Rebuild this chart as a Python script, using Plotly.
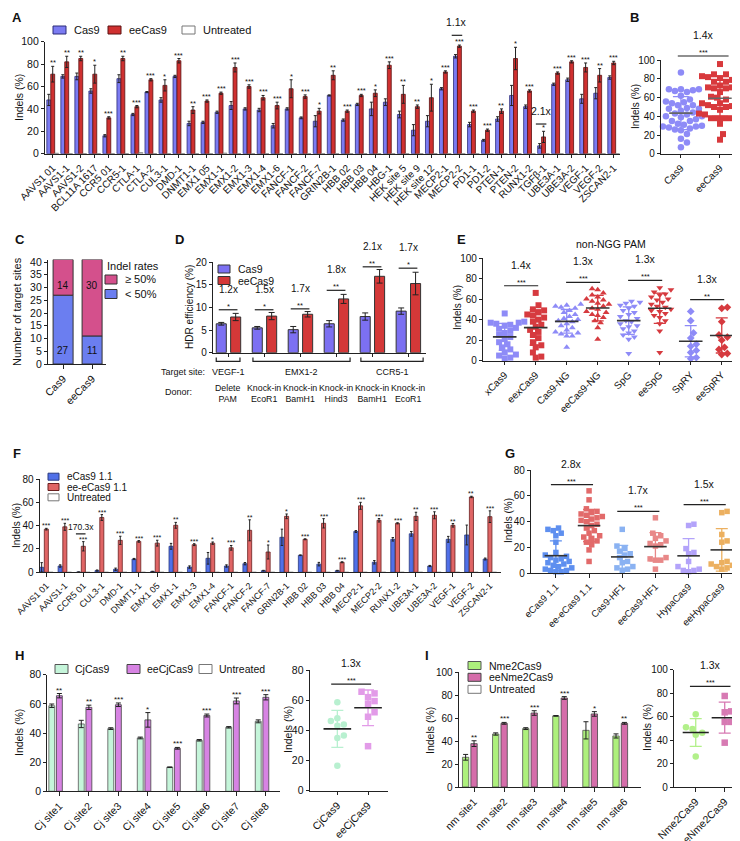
import numpy as np
import plotly.graph_objects as go

W, H = 740, 841
FONT = "Liberation Sans, Arial, sans-serif"
INK = "#222222"

# ---------------- A : per-site indels ----------------
a_sites = ["AAVS1 01", "AAVS1-1", "AAVS1-2", "BCL11A 1617", "CCR5 01", "CCR5-1", "CTLA-1", "CTLA-2",
           "CUL3-1", "DMD-1", "DNMT1-1", "EMX1 05", "EMX1-1", "EMX1-2", "EMX1-3", "EMX1-4", "EMX1-6",
           "FANCF-1", "FANCF-2", "FANCF-7", "GRIN2B-1", "HBB 02", "HBB 03", "HBB 04", "HBG-1",
           "HEK site 5", "HEK site 9", "HEK site 12", "MECP2-1", "MECP2-2", "PD1-1", "PD1-2",
           "PTEN-1", "PTEN-2", "RUNX1-2", "TGFβ-1", "UBE3A-1", "UBE3A-2", "VEGF-1", "VEGF-2", "ZSCAN2-1"]
a_cas9 = [48, 69, 69, 56, 16, 67, 35, 55, 48, 69, 27, 28, 37, 43, 40, 39, 25, 40, 32, 29, 52, 30, 44, 40,
          46, 35, 21, 29, 58, 87, 26, 12, 31, 52, 42, 7, 62, 66, 49, 54, 68]
a_cas9_err = [5, 1.5, 3, 2, 1, 3.5, 1, 0.5, 2, 1, 2, 1, 1, 3.5, 1, 1.5, 2, 1, 0.8, 5, 0.5, 1, 1, 6, 3,
              3, 5, 5, 1, 1.5, 2, 0.8, 2, 9, 1.5, 2, 1, 1.5, 4, 5, 1.5]
a_ee = [71, 82, 85, 71, 32, 85, 42, 66, 61, 83, 39, 47, 54, 77, 60, 50, 43, 58, 51, 38, 70, 38, 52, 54,
        79, 53, 42, 50, 73, 96, 38, 21, 38, 85, 56, 15, 72, 82, 77, 70, 81]
a_ee_err = [7, 5, 2, 8, 1, 2, 1, 1, 5, 2, 3, 1, 1, 4, 1.5, 2, 3, 8, 1.5, 2.5, 4, 1, 1, 3, 3, 8, 1.5, 12,
            1, 1, 1, 1, 2, 10, 1, 5, 1, 1, 4, 6, 1.5]
a_untreated = [0.4, 0, 0, 0, 0, 0, 1.0, 0, 0, 0, 0, 0, 0.5, 0, 0, 0, 0, 0, 0, 0, 0, 0, 0, 0, 0, 0, 0, 0,
               0, 0, 0, 0, 0, 0, 0, 0, 0, 0, 0, 0, 0]
a_sig = ["**", "**", "**", "*", "***", "**", "***", "***", "*", "***", "**", "***", "***", "***", "***",
         "***", "***", "*", "***", "*", "**", "***", "***", "*", "***", "**", "**", "*", "***", "***",
         "***", "***", "**", "*", "***", "*", "***", "***", "***", "**", "***"]

# ---------------- C : counts ----------------
c_groups = ["Cas9", "eeCas9"]
c_low = [27, 11]
c_high = [14, 30]

# ---------------- D : HDR ----------------
d_cas9 = [6.4, 5.5, 5.1, 6.4, 8.0, 9.2]
d_cas9_err = [0.3, 0.3, 0.7, 0.7, 0.8, 0.7]
d_ee = [7.9, 8.1, 8.5, 11.9, 16.9, 15.3]
d_ee_err = [0.8, 0.8, 0.6, 1.0, 1.5, 2.5]
d_fold = ["1.2x", "1.5x", "1.7x", "1.8x", "2.1x", "1.7x"]
d_sig = ["*", "*", "**", "**", "**", "*"]
d_line = [9.5, 9.5, 9.7, 13.8, 19.0, 18.7]
d_donor = ["Delete<br>PAM", "Knock-in<br>EcoR1", "Knock-in<br>BamH1", "Knock-in<br>Hind3",
           "Knock-in<br>BamH1", "Knock-in<br>EcoR1"]
d_targets = ["VEGF-1", "EMX1-2", "CCR5-1"]

# ---------------- E : non-NGG PAM ----------------
e_groups = ["xCas9", "eexCas9", "Cas9-NG", "eeCas9-NG", "SpG", "eeSpG", "SpRY", "eeSpRY"]
e_xcas9 = [46, 38, 37, 37, 36, 35, 34, 32, 31, 29, 27, 25, 23, 21, 18, 16, 13, 11, 8, 6, 5, 3, 2]
e_eexcas9 = [66, 54, 50, 49, 47, 45, 44, 42, 40, 38, 35, 33, 30, 28, 25, 22, 18, 15, 13, 8, 4, 3]
e_ng = [55, 54, 53, 52, 51, 49, 47, 45, 43, 41, 40, 39, 38, 36, 34, 32, 30, 28, 27, 26, 24, 24, 13]
e_eeng = [70, 69, 66, 64, 62, 60, 59, 58, 56, 55, 53, 51, 50, 48, 47, 45, 44, 42, 39, 37, 32, 21]
e_spg = [58, 57, 56, 54, 53, 51, 49, 47, 45, 43, 41, 39, 38, 36, 34, 33, 31, 29, 27, 25, 23, 21, 7]
e_eespg = [71, 69, 67, 65, 64, 62, 60, 59, 57, 55, 53, 52, 50, 49, 48, 46, 44, 42, 39, 36, 29, 8]
e_spry = [48, 39, 27, 22, 16, 14, 10, 8, 3, 2]
e_eespry = [52, 51, 38, 25, 23, 20, 13, 11, 7, 6]
e_pairs = [(0, 1, 73, "***", "1.4x"), (2, 3, 76.3, "***", "1.3x"),
           (4, 5, 78.2, "***", "1.3x"), (6, 7, 59.4, "**", "1.3x")]

# ---------------- F : eCas9 1.1 ----------------
f_sites = ["AAVS1 01", "AAVS1-1", "CCR5 01", "CUL3-1", "DMD-1", "DNMT1-1", "EMX1 05", "EMX1-1",
           "EMX1-3", "EMX1-4", "FANCF-1", "FANCF-2", "FANCF-7", "GRIN2B-1", "HBB 02", "HBB 03",
           "HBB 04", "MECP2-1", "MECP2-2", "RUNX1-2", "UBE3A-1", "UBE3A-2", "VEGF-1", "VEGF-2", "ZSCAN2-1"]
f_e = [4.3, 5.4, 0.2, 1.5, 2.6, 11.4, 0.6, 22.3, 4.5, 12, 5.4, 7.4, 1.4, 30, 14.6, 7, 1.4, 35, 8.6,
       28.3, 33, 5.4, 28.3, 32, 11.4]
f_e_err = [4, 1, 0.1, 0.5, 1, 0.5, 0.3, 2.5, 1, 5, 1, 1, 0.3, 7, 0.3, 1.5, 0.3, 0.8, 1.5, 1.5, 2, 0.5,
           2.5, 8.5, 0.8]
f_ee = [37, 39, 22.3, 47, 27.4, 26.5, 25, 40.3, 23.7, 25, 21, 36, 17.4, 48, 28.3, 42, 8.6, 57, 44.6, 42,
        48, 48.9, 40.3, 64.6, 47.7]
f_ee_err = [0.7, 3, 4, 2.5, 3.5, 0.7, 2.5, 2.5, 0.8, 1, 2, 9, 6, 2, 0.4, 4, 0.4, 3, 1.5, 0.5, 3.5, 3,
            1.5, 0.6, 5]
f_sig = ["***", "***", "***", "***", "***", "***", "***", "**", "***", "*", "***", "**", "*", "*",
         "***", "***", "***", "***", "***", "***", "**", "***", "**", "**", "***"]

# ---------------- G : other high-fidelity variants ----------------
g_groups = ["eCas9 1.1", "ee-eCas9 1.1", "Cas9-HF1", "eeCas9-HF1", "HypaCas9", "eeHypaCas9"]
g_ecas9 = [35, 34, 33, 31, 29, 24, 16, 14, 13, 12, 11, 10, 9, 8, 7, 6, 5, 4, 3, 2, 2, 1, 1]
g_eeecas9 = [64, 57, 50, 48, 47, 46, 45, 44, 43, 42, 41, 40, 38, 37, 35, 33, 31, 29, 28, 27, 25, 24,
             22, 18, 9]
g_hf1 = [34, 21, 19, 17, 15, 14, 12, 9, 8, 5, 4, 3, 2]
g_eehf1 = [43, 31, 29, 27, 25, 23, 22, 21, 12, 11, 10, 10, 3]
g_hypa = [38, 37, 19, 16, 15, 9, 5, 3, 2, 2, 1]
g_eehypa = [48, 47, 30, 25, 24, 9, 8, 7, 6, 5, 4, 3]
g_pairs = [(0, 1, 68.8, "***", "2.8x"), (2, 3, 48, "***", "1.7x"), (4, 5, 53.2, "***", "1.5x")]

# ---------------- H : CjCas9 ----------------
h_sites = ["Cj site1", "Cj site2", "Cj site3", "Cj site4", "Cj site5", "Cj site6", "Cj site7", "Cj site8"]
h_cj = [58.7, 46.2, 43, 36.6, 16.5, 35, 43.9, 48]
h_cj_err = [1.2, 2.5, 0.6, 0.6, 0.2, 0.5, 0.5, 1.0]
h_ee = [65.6, 57.6, 59.4, 49, 29.5, 52, 62, 64.5]
h_ee_err = [1.5, 1.5, 1.2, 5, 0.6, 1, 2, 1.8]
h_sig = ["**", "**", "***", "*", "***", "***", "***", "***"]

# ---------------- I : Nme2Cas9 ----------------
i_sites = ["nm site1", "nm site2", "nm site3", "nm site4", "nm site5", "nm site6"]
i_nme = [25.9, 46.2, 50.9, 62, 49.4, 44.5]
i_nme_err = [2.5, 1, 0.8, 0.3, 7.5, 1.8]
i_ee = [37.8, 55.5, 64.5, 77.6, 63.7, 55.5]
i_ee_err = [2.5, 0.8, 2, 1.2, 2, 0.8]
i_sig = ["**", "***", "***", "***", "*", "**"]

fig = go.Figure()
PANELS = {}


def sfx(n):
    return "" if n == 1 else str(n)


def axes(n, box, xr, yr, ytick, xvals=None, xtext=None, xfont=10, yfont=10):
    left, right, top, bottom = box
    PANELS[n] = (left, right, top, bottom, xr, yr)
    s = sfx(n)
    fig.update_layout({
        "xaxis" + s: dict(domain=[left / W, right / W], range=xr, anchor="y" + s, showline=True,
                          linecolor=INK, linewidth=1.2, ticks="outside", ticklen=3.5, tickwidth=1,
                          tickcolor=INK, tickvals=xvals, ticktext=xtext, tickangle=-45,
                          tickfont=dict(size=xfont, color="#111"), showgrid=False, zeroline=False,
                          automargin=False, fixedrange=True),
        "yaxis" + s: dict(domain=[1 - bottom / H, 1 - top / H], range=yr, anchor="x" + s, showline=True,
                          linecolor=INK, linewidth=1.2, ticks="outside", ticklen=3, tickwidth=1,
                          tickcolor=INK, tickvals=ytick, tickfont=dict(size=yfont, color="#111"),
                          showgrid=False, zeroline=False, automargin=False, fixedrange=True),
    })


def vy(n, v):
    left, right, top, bottom, xr, yr = PANELS[n]
    py = bottom - (v - yr[0]) / (yr[1] - yr[0]) * (bottom - top)
    return 1 - py / H


def xref(n):
    return "x" + sfx(n)


def bars(n, vals, errs, offset, width, color, edge, capw=1.5, lw=0.8):
    fig.add_trace(go.Bar(
        x=list(range(len(vals))), y=vals, width=width, offset=offset,
        marker=dict(color=color, line=dict(color=edge, width=lw)),
        error_y=dict(type="data", array=errs, color=INK, thickness=1, width=capw, visible=errs is not None),
        xaxis=xref(n), yaxis="y" + sfx(n), showlegend=False, hoverinfo="skip"))


def stars(n, xs, tops, labels, size=7.5):
    for x, t, s in zip(xs, tops, labels):
        fig.add_annotation(xref=xref(n), yref="paper", x=x, y=vy(n, t), text=s, showarrow=False,
                           yanchor="bottom", yshift=-3, font=dict(size=size, color="#111"))


def bracket(n, x0, x1, v, st, fold, st_size=7.5, fold_size=10.5, star_shift=-3, fold_shift=5):
    y = vy(n, v)
    fig.add_shape(type="line", xref=xref(n), yref="paper", x0=x0, x1=x1, y0=y, y1=y,
                  line=dict(color=INK, width=1.2))
    if st:
        fig.add_annotation(xref=xref(n), yref="paper", x=(x0 + x1) / 2, y=y, text=st, showarrow=False,
                           yanchor="bottom", yshift=star_shift, font=dict(size=st_size, color="#111"))
    if fold:
        fig.add_annotation(xref=xref(n), yref="paper", x=(x0 + x1) / 2, y=y, text=fold, showarrow=False,
                           yanchor="bottom", yshift=fold_shift + (8 if st else 0),
                           font=dict(size=fold_size, color="#111"))


def swarm(n, vals, d):
    left, right, top, bottom, xr, yr = PANELS[n]
    ppy = (bottom - top) / (yr[1] - yr[0])
    ppx = (right - left) / (xr[1] - xr[0])
    order = np.argsort(vals)
    placed = []
    offs = np.zeros(len(vals))
    for i in order:
        y = vals[i] * ppy
        k = 0
        pos = None
        while pos is None:
            for c in ([0.0] if k == 0 else [k * d * 0.5, -k * d * 0.5]):
                if all((c - px) ** 2 + (y - pyy) ** 2 >= d * d for px, pyy in placed):
                    pos = c
                    break
            k += 1
        placed.append((pos, y))
        offs[i] = pos / ppx
    return offs


def dots(n, cat, vals, color, symbol, size=6, d=6, mean_w=0.32, cap=6, mean_color="#333", sd_color=None):
    vals = np.asarray(vals, dtype=float)
    offs = swarm(n, vals, d)
    fig.add_trace(go.Scatter(x=cat + offs, y=vals, mode="markers", cliponaxis=False,
                             marker=dict(symbol=symbol, size=size, color=color, line=dict(width=0)),
                             xaxis=xref(n), yaxis="y" + sfx(n), showlegend=False, hoverinfo="skip"))
    m, sd = vals.mean(), vals.std(ddof=1)
    fig.add_trace(go.Scatter(x=[cat], y=[m], mode="markers", marker=dict(size=1, color="rgba(0,0,0,0)"),
                             error_y=dict(type="data", array=[sd], color=sd_color or color, thickness=1.3,
                                          width=cap),
                             xaxis=xref(n), yaxis="y" + sfx(n), showlegend=False, hoverinfo="skip"))
    fig.add_trace(go.Scatter(x=[cat - mean_w, cat + mean_w], y=[m, m], mode="lines",
                             line=dict(color=mean_color, width=1.6),
                             xaxis=xref(n), yaxis="y" + sfx(n), showlegend=False, hoverinfo="skip"))


def text(x, y, s, size=10.5, anchor="center", angle=0, bold=False, color="#111"):
    fig.add_annotation(xref="paper", yref="paper", x=x / W, y=1 - y / H, text=f"<b>{s}</b>" if bold else s,
                       showarrow=False, xanchor=anchor, yanchor="middle", textangle=angle,
                       font=dict(size=size, color=color))


def key(x, y, fill, edge, label, w=13, h=8, size=11, gap=6):
    fig.add_shape(type="rect", xref="paper", yref="paper", x0=x / W, x1=(x + w) / W,
                  y0=1 - (y + h / 2) / H, y1=1 - (y - h / 2) / H, fillcolor=fill, line=dict(color=edge, width=1))
    text(x + w + gap, y, label, size=size, anchor="left")


# ======== A ========
axes(1, (37, 612, 33.7, 145.7), [-0.55, 40.45], [0, 100], list(range(0, 101, 20)),
     list(range(len(a_sites))), a_sites, xfont=10, yfont=10.5)
bars(1, a_cas9, a_cas9_err, -0.42, 0.28, "#7B7BF2", "#2c2c78")
bars(1, a_ee, a_ee_err, -0.14, 0.28, "#CF3030", "#5a1010")
bars(1, a_untreated, None, 0.14, 0.28, "white", "#777777")
stars(1, range(len(a_sites)), [v + e for v, e in zip(a_ee, a_ee_err)], a_sig)
bracket(1, 28.45, 29.2, 105.7, None, "1.1x")
bracket(1, 34.45, 35.2, 26.5, None, "2.1x")
key(45, 22, "#7B7BF2", "#2c2c78", "Cas9")
key(100, 22, "#CF3030", "#5a1010", "eeCas9")
key(174, 22, "white", "#777777", "Untreated")
text(11, 90, "Indels (%)", angle=-90)
text(2, 10, "A", size=13, anchor="left", bold=True)

# ======== B ========
axes(2, (653, 728, 52.3, 145.7), [-0.51, 1.41], [0, 100], list(range(0, 101, 20)), [0, 1], ["Cas9", "eeCas9"])
dots(2, 0, a_cas9, "#8E8BF7", "circle", size=6.5, d=6, mean_w=0.3, mean_color="#666666", cap=8)
dots(2, 1, a_ee, "#D8393C", "square", size=6, d=6, mean_w=0.3, mean_color="#666666", cap=8)
bracket(2, -0.08, 1.22, 104.6, "***", "1.4x")
text(627, 99, "Indels (%)", size=10)
fig.layout.annotations[-1].textangle = -90
text(620, 10, "B", size=13, anchor="left", bold=True)

# ======== C ========
axes(3, (40, 98, 251.5, 356), [-0.52, 1.48], [0, 41], list(range(0, 41, 5)), [0, 1], c_groups, xfont=10.5,
     yfont=10.5)
fig.add_trace(go.Bar(x=[0, 1], y=c_low, width=0.69, offset=-0.345, marker=dict(color="#6B7EF0",
                     line=dict(color="#333", width=1)), xaxis="x3", yaxis="y3", showlegend=False))
fig.add_trace(go.Bar(x=[0, 1], y=c_high, base=c_low, width=0.69, offset=-0.345,
                     marker=dict(color="#D4508C", line=dict(color="#333", width=1)),
                     xaxis="x3", yaxis="y3", showlegend=False))
for i in range(2):
    fig.add_annotation(xref="x3", yref="paper", x=i, y=vy(3, 33.7), text=str(c_high[i]), showarrow=False,
                       font=dict(size=10, color="#111"))
    fig.add_annotation(xref="x3", yref="paper", x=i, y=vy(3, 5.2), text=str(c_low[i]), showarrow=False,
                       font=dict(size=10, color="#111"))
text(97, 258, "Indel rates", size=11, anchor="left")
key(97, 271.5, "#D4508C", "#333", "≥ 50%", w=12, h=9)
key(97, 286, "#6B7EF0", "#333", "< 50%", w=12, h=9)
text(9, 304, "Number of target sites", size=11, angle=-90)
text(5, 231, "C", size=13, anchor="left", bold=True)

# ======== D ========
axes(4, (205, 418, 254.3, 344.7), [-0.42, 5.5], [0, 20], [0, 5, 10, 15, 20], list(range(6)), [""] * 6)
bars(4, d_cas9, d_cas9_err, -0.33, 0.28, "#7C70F2", "#333", capw=3, lw=1)
bars(4, d_ee, d_ee_err, 0.07, 0.28, "#D43838", "#333", capw=3, lw=1)
for i in range(6):
    bracket(4, i - 0.26, i + 0.26, d_line[i], d_sig[i], d_fold[i], fold_size=10)
for (a, b), lab in zip([(-0.33, 0.33), (0.69, 3.39), (3.69, 5.42)], d_targets):
    yb = 1 - 353.3 / H
    yt = 1 - 349.5 / H
    fig.add_shape(type="path", xref="x4", yref="paper",
                  path=f"M{a},{yt} L{a},{yb} L{b},{yb} L{b},{yt}", line=dict(color=INK, width=1.2))
    fig.add_annotation(xref="x4", yref="paper", x=(a + b) / 2, y=1 - 364.5 / H, text=lab, showarrow=False,
                       font=dict(size=9, color="#111"))
for i, lab in enumerate(d_donor):
    fig.add_annotation(xref="x4", yref="paper", x=i, y=1 - 385 / H, text=lab, showarrow=False,
                       font=dict(size=8.8, color="#111"))
text(199, 364.5, "Target site:", size=9, anchor="right")
text(186, 384, "Donor:", size=9, anchor="right")
key(210, 261, "#7C70F2", "#333", "Cas9", w=12, h=8, size=10.5)
key(210, 272.5, "#D43838", "#333", "eeCas9", w=12, h=8, size=10.5)
text(182, 299, "HDR efficiency (%)", size=10, angle=-90)
text(165, 231, "D", size=13, anchor="left", bold=True)

# ======== E ========
axes(5, (475, 737, 250, 352.7), [-0.7, 7.75], [0, 100], [0, 20, 40, 60, 80, 100], list(range(8)), e_groups)
e_sets = [e_xcas9, e_eexcas9, e_ng, e_eeng, e_spg, e_eespg, e_spry, e_eespry]
e_symbols = ["square", "square", "triangle-up", "triangle-up", "triangle-down", "triangle-down",
             "diamond", "diamond"]
for i, vals in enumerate(e_sets):
    col = "#8E8BF7" if i % 2 == 0 else "#D63A3F"
    dots(5, i, vals, col, e_symbols[i], size=6, d=5.6, mean_w=0.38, cap=6, mean_color="#333")
for a, b, v, st, fold in e_pairs:
    bracket(5, a - 0.02, b + 0.08, v, st, fold)
text(603, 236, "non-NGG PAM", size=10.5)
text(449, 300, "Indels (%)", size=10, angle=-90)
text(447, 231, "E", size=13, anchor="left", bold=True)

# ======== F ========
axes(6, (31.7, 493, 471, 564.3), [-0.36, 24.6], [0, 80], [0, 20, 40, 60, 80], list(range(len(f_sites))),
     f_sites, xfont=9)
bars(6, f_e, f_e_err, -0.364, 0.22, "#5070E8", "#2a3a80", capw=1.2)
bars(6, f_ee, f_ee_err, -0.11, 0.22, "#E06565", "#6a1f1f", capw=1.2)
bars(6, [0] * len(f_sites), None, 0.144, 0.22, "white", "#777")
stars(6, range(len(f_sites)), [v + e for v, e in zip(f_ee, f_ee_err)], f_sig, size=7)
bracket(6, 1.6, 2.12, 33, None, "170.3x", fold_size=8.5, fold_shift=0)
key(40, 468.7, "#5070E8", "#2a3a80", "eCas9 1.1", w=11, h=7, size=10)
key(40, 479, "#E06565", "#6a1f1f", "ee-eCas9 1.1", w=11, h=7, size=10)
key(40, 489.3, "white", "#777", "Untreated", w=11, h=7, size=10)
text(8, 518, "Indels (%)", size=10, angle=-90)
text(3, 445, "F", size=13, anchor="left", bold=True)

# ======== G ========
axes(7, (523, 737, 462.3, 565), [-0.75, 5.7], [0, 80], [0, 20, 40, 60, 80], list(range(6)), g_groups,
     xfont=9.5)
g_sets = [g_ecas9, g_eeecas9, g_hf1, g_eehf1, g_hypa, g_eehypa]
g_cols = ["#5E8FEF", "#E26A6A", "#8AB2F2", "#E88888", "#B3A3FA", "#ECB060"]
for i, vals in enumerate(g_sets):
    dots(7, i, vals, g_cols[i], "square", size=5.5, d=5.3, mean_w=0.34, cap=6, mean_color="#333")
for a, b, v, st, fold in g_pairs:
    bracket(7, a - 0.15, b + 0.12, v, st, fold)
text(500, 513, "Indels (%)", size=10, angle=-90)
text(495, 445, "G", size=13, anchor="left", bold=True)

# ======== H ========
axes(8, (39.3, 271.7, 666.7, 783.3), [-0.41, 7.47], [0, 80], [0, 20, 40, 60, 80], list(range(8)), h_sites,
     xfont=10.5, yfont=10.5)
bars(8, h_cj, h_cj_err, -0.358, 0.2, "#C5F5DA", "#555", capw=2.5)
bars(8, h_ee, h_ee_err, -0.1, 0.2, "#D783E3", "#444", capw=2.5)
stars(8, range(8), [v + e for v, e in zip(h_ee, h_ee_err)], h_sig, size=8)
key(47, 661, "#C5F5DA", "#555", "CjCas9", w=13, h=9, size=10.5, gap=5)
key(119, 661, "#D783E3", "#444", "eeCjCas9", w=13, h=9, size=10.5, gap=5)
key(191, 661, "white", "#777", "Untreated", w=13, h=9, size=10.5, gap=5)
text(11, 725, "Indels (%)", angle=-90)
text(5, 647, "H", size=13, anchor="left", bold=True)

axes(9, (301.7, 380, 662, 782.7), [-0.9, 1.65], [0, 80], [0, 20, 40, 60, 80], [0, 1], ["CjCas9", "eeCjCas9"],
     xfont=10.5, yfont=10.5)
dots(9, 0, h_cj, "#B8F0D0", "circle", size=6.5, d=6.5, mean_w=0.45, cap=6, mean_color="#222")
dots(9, 1, h_ee, "#E29BE8", "square", size=6.5, d=6.5, mean_w=0.45, cap=6, mean_color="#222")
bracket(9, -0.2, 1.1, 70.7, "***", "1.3x")
text(280, 722, "Indels (%)", angle=-90)

# ======== I ========
axes(10, (450.7, 633, 664.3, 779), [-0.51, 5.55], [0, 100], [0, 20, 40, 60, 80, 100], list(range(6)),
     i_sites, xfont=10.5)
bars(10, i_nme, i_nme_err, -0.385, 0.21, "#ADF07C", "#555", capw=2.5)
bars(10, i_ee, i_ee_err, -0.105, 0.21, "#D56DAA", "#444", capw=2.5)
stars(10, range(6), [v + e for v, e in zip(i_ee, i_ee_err)], i_sig, size=8)
key(460, 657.5, "#ADF07C", "#555", "Nme2Cas9", w=13, h=8, size=10.5)
key(460, 669.3, "#D56DAA", "#444", "eeNme2Cas9", w=13, h=8, size=10.5)
key(460, 681.3, "white", "#777", "Untreated", w=13, h=8, size=10.5)
text(422, 722, "Indels (%)", angle=-90)
text(415, 647, "I", size=13, anchor="left", bold=True)

axes(11, (666, 737, 661.7, 779), [-0.75, 1.7], [0, 100], [0, 20, 40, 60, 80, 100], [0, 1],
     ["Nme2Cas9", "eeNme2Cas9"], xfont=10.5)
dots(11, 0, i_nme, "#B2F08A", "circle", size=6.5, d=6.5, mean_w=0.45, cap=6, mean_color="#222")
dots(11, 1, i_ee, "#D77AB3", "square", size=6.5, d=6.5, mean_w=0.45, cap=6, mean_color="#222")
bracket(11, -0.2, 1.2, 85.8, "***", "1.3x")
text(639, 720, "Indels (%)", angle=-90)

fig.update_layout(width=W, height=H, margin=dict(l=0, r=0, t=0, b=0), template="none",
                  paper_bgcolor="white", plot_bgcolor="rgba(0,0,0,0)", showlegend=False,
                  font=dict(family=FONT, size=10, color="#111"), barmode="overlay")
fig.write_html("out.html")
